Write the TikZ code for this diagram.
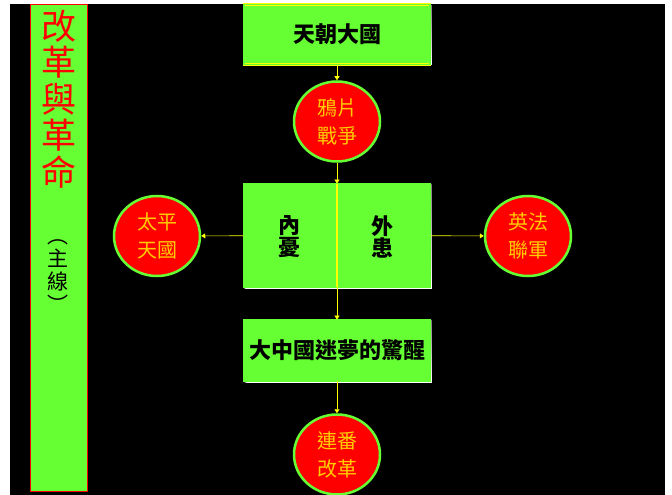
\documentclass[tikz,border=0pt]{standalone}
\usepackage{fontspec}
\newfontfamily\cjk{Noto Sans CJK TC}
\usetikzlibrary{shapes.geometric,arrows.meta}
\definecolor{lgreen}{HTML}{66FF33}
\definecolor{ylw}{HTML}{FFFF00}
\definecolor{ctxt}{HTML}{FFCC00}
\definecolor{shade}{HTML}{666600}
\begin{document}
\begin{tikzpicture}[x=1pt,y=-1pt,
  box/.style={draw=ylw, fill=lgreen, line width=0.7pt, double=lgreen, double distance=1.2pt,
    minimum width=186pt, inner sep=0pt, font=\cjk\bfseries\fontsize{22}{24}\selectfont, text=black},
  bubble/.style={ellipse, draw=lgreen, line width=2.5pt, fill=red, minimum width=86pt,
    minimum height=80pt, inner sep=0pt, text=ctxt, align=center,
    font=\cjk\fontsize{20}{28}\selectfont},
  conn/.style={draw=ylw, line width=0.6pt, -{Triangle[width=5pt,length=4pt]}},
  inner/.style={font=\cjk\bfseries\fontsize{22}{22}\selectfont, text=black, align=center, inner sep=0pt}
]
\useasboundingbox (0,0) rectangle (672,495);
\fill[white] (0,0) rectangle (672,495);
\fill[black] (10,4) rectangle (665,495);

% left bar
\node[draw=red, fill=lgreen, line width=0.8pt, minimum width=57pt, minimum height=487pt, inner sep=0pt] (bar) at (59,248) {};
\node[text=red, align=center, inner sep=0pt, font=\cjk\fontsize{35}{36.5}\selectfont] (title) at (59,99) {改\\革\\與\\革\\命};
\node[text=black, align=center, inner sep=0pt, font=\cjk\fontsize{21}{23}\selectfont] (sub) at (58,276) {︵\\主\\線\\︶};

% boxes
\draw[shade, line width=1pt] (244,66) -- (432,66) -- (432,5);
\node[box, minimum height=60pt] (top) at (337,34.5) {天朝大國};
\draw[shade, line width=1pt] (244,289) -- (432,289) -- (432,184);
\node[box, minimum height=103pt] (mid) at (337,235.5) {};
\draw[shade, line width=1pt] (244,383) -- (432,383) -- (432,320);
\node[box, minimum height=61pt] (dream) at (337,350.5) {大中國迷夢的驚醒};

\node[inner] (nei) at (289,237) {內\\憂};
\node[inner] (wai) at (382,237) {外\\患};

% circles
\node[bubble] (opium) at (337,121.5) {鴉片\\戰爭};
\node[bubble] (taiping) at (157,236) {太平\\天國};
\node[bubble] (anglo) at (528,236) {英法\\聯軍};
\node[bubble] (reform) at (337,454.5) {連番\\改革};

% connectors
\draw[conn] (top) -- (opium);
\draw[conn] (opium) -- (mid);
\draw[ylw, line width=1.2pt] (mid.north) -- (mid.south);
\draw[conn] (mid) -- (dream);
\draw[conn] (dream) -- (reform);
\draw[conn] (mid) -- (taiping);
\draw[conn] (mid) -- (anglo);
\end{tikzpicture}
\end{document}
